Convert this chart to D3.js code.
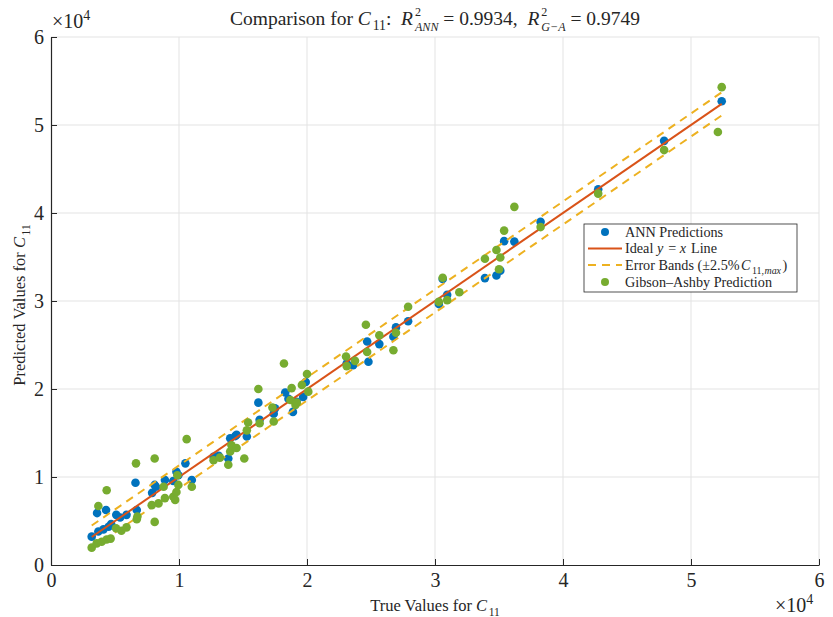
<!DOCTYPE html>
<html>
<head>
<meta charset="utf-8">
<script src="https://cdn.jsdelivr.net/npm/d3@7"></script>
<style>
  html, body { margin: 0; padding: 0; background: #fff; }
  svg { display: block; }
  text { font-family: "Liberation Serif", "Times New Roman", serif; fill: #262626; white-space: pre; }
</style>
</head>
<body>
<svg id="chart" width="833" height="617"></svg>
<script>
// ANN predictions: true vs predicted C11
const annTrue = [3180, 3600, 3700, 4100, 4300, 4500, 4700, 5100, 5400, 5900,
  6600, 6700, 7900, 8100, 8200, 8900, 9550, 9800, 9950, 10500, 11000,
  12700, 13100, 13850, 14000, 14400, 14500, 15300, 16200, 16300, 17400, 17500,
  18300, 18550, 18900, 19200, 19700, 19900, 23100, 23600, 24700, 24800, 25650,
  26750, 26950, 27900, 30300, 30600, 30950, 33900, 34800, 35100, 35400, 36200,
  38250, 42750, 47900, 52400];
const annPred = [3220, 5900, 3800, 4050, 6250, 4350, 4650, 5700, 5400, 5700,
  9350, 6250, 8200, 9100, 8900, 9650, 9550, 10600, 10200, 11550, 9650,
  12300, 12400, 12100, 14400, 14650, 14800, 14600, 18450, 16500, 17200, 17800,
  19600, 18900, 17400, 18550, 19100, 20800, 22900, 22700, 25400, 23100, 25100,
  25950, 27000, 27700, 29650, 32500, 30700, 32600, 32900, 33450, 36800, 36750,
  39000, 42700, 48200, 52700];

// Gibson-Ashby model: true vs predicted C11
const gaTrue = [3180, 3570, 3700, 3960, 4350, 4350, 4660, 5080, 5500, 5900,
  6640, 6700, 6750, 7870, 8100, 8100, 8400, 8800, 8900, 9550, 9700, 9800,
  9950, 9870, 10600, 11000, 12700, 13200, 13850, 14000, 14100, 14500, 15100,
  15300, 15400, 16200, 16300, 17300, 17400, 18200, 18700, 18800, 19100, 19200,
  19600, 20000, 20100, 23050, 23100, 23750, 24600, 24700, 25650, 26750, 26950,
  27900, 30300, 30600, 30950, 31900, 33900, 34800, 35000, 35100, 35400, 36200,
  38250, 42750, 47900, 52100, 52400];
const gaPred = [1970, 2460, 6700, 2650, 2900, 8500, 3000, 4170, 3900, 4280,
  11550, 5200, 5500, 6800, 12100, 4900, 7000, 8900, 7600, 7750, 7400, 8300,
  9100, 10200, 14300, 8900, 11900, 12200, 11400, 12900, 13600, 13300, 12100,
  15300, 16200, 20000, 16100, 17900, 16300, 22900, 18750, 20100, 18200, 18450,
  20450, 21700, 19700, 23700, 22600, 23200, 27300, 24200, 26100, 24400, 26400,
  29350, 29900, 32650, 30100, 31000, 34800, 35800, 33600, 34950, 38000, 40700,
  38400, 42200, 47150, 49200, 54300];

const xTicks = [0, 10000, 20000, 30000, 40000, 50000, 60000];
const yTicks = [0, 10000, 20000, 30000, 40000, 50000, 60000];
const bandPct = 0.025;

const C = { ann: "#0072BD", ideal: "#D95319", band: "#EDB120", ga: "#77AC30", axis: "#262626", grid: "#e3e3e3" };

const svg = d3.select("#chart");
const L = 51, R = 819, T = 37, B = 565;
const x = d3.scaleLinear().domain([0, 60000]).range([L, R]);
const y = d3.scaleLinear().domain([0, 60000]).range([B, T]);

// Measure a string at a given size/style
const probe = svg.append("text").attr("x", -999).attr("y", -999);
function measure(t, fs, it) {
  probe.style("font-size", fs + "px").style("font-style", it ? "italic" : "normal").text(t);
  return probe.node().getComputedTextLength();
}

// Lay out one text element of pieces with italics, sub/superscripts and stacked scripts
function mathText(parent, px, py, segs, opt) {
  const size = opt.size, anchor = opt.anchor || "start";
  const pieces = [];
  let cx = 0;
  segs.forEach(s => {
    if (s.stack) {
      const fs = size * 0.62;
      let w = 0;
      s.stack.forEach((p, k) => {
        pieces.push({ t: p.t, x: cx, dy: k === 0 ? -size * 0.45 : size * 0.33, fs, it: p.it });
        w = Math.max(w, measure(p.t, fs, p.it));
      });
      cx += w;
    } else {
      const fs = s.sub || s.sup ? size * 0.7 : size;
      const dy = s.sub ? size * 0.28 : s.sup ? -size * 0.38 : 0;
      pieces.push({ t: s.t, x: cx, dy, fs, it: s.it });
      // italic glyphs lean right, so leave them a little room
      cx += measure(s.t, fs, s.it) + (s.it ? size * 0.1 : 0) + (s.pad || 0);
    }
  });
  const off = anchor === "middle" ? -cx / 2 : anchor === "end" ? -cx : 0;
  const txt = parent.append("text").attr("transform", `translate(${px + off},${py})`);
  pieces.forEach(p => {
    txt.append("tspan").attr("x", p.x).attr("y", p.dy)
      .style("font-size", p.fs + "px").style("font-style", p.it ? "italic" : "normal").text(p.t);
  });
  return txt;
}

// Grid
const grid = svg.append("g");
grid.selectAll(".gx").data(xTicks.slice(1)).join("line")
  .attr("x1", d => x(d)).attr("x2", d => x(d)).attr("y1", T).attr("y2", B)
  .attr("stroke", C.grid).attr("stroke-width", 1);
grid.selectAll(".gy").data(yTicks.slice(1)).join("line")
  .attr("x1", L).attr("x2", R).attr("y1", d => y(d)).attr("y2", d => y(d))
  .attr("stroke", C.grid).attr("stroke-width", 1);

// Axes with inward ticks
const fmt = d => d3.format("d")(d / 10000);
const xAxis = svg.append("g").attr("transform", `translate(0,${B})`)
  .call(d3.axisBottom(x).tickValues(xTicks).tickFormat(fmt).tickSizeInner(-6).tickSizeOuter(0).tickPadding(8));
const yAxis = svg.append("g").attr("transform", `translate(${L},0)`)
  .call(d3.axisLeft(y).tickValues(yTicks).tickFormat(fmt).tickSizeInner(-6).tickSizeOuter(0).tickPadding(7));
[xAxis, yAxis].forEach(a => {
  a.select(".domain").attr("stroke", C.axis).attr("stroke-width", 1.2);
  a.selectAll(".tick line").attr("stroke", C.axis);
  a.selectAll(".tick text").style("font-family", "'Liberation Serif', serif").style("font-size", "20px").attr("fill", C.axis);
});

// Exponent labels
mathText(svg, 52, 28, [{ t: "×10" }, { t: "4", sup: true }], { size: 20 });
mathText(svg, 775, 612, [{ t: "×10" }, { t: "4", sup: true }], { size: 20 });

// ANN points
svg.append("g").selectAll("circle").data(annTrue).join("circle")
  .attr("cx", d => x(d)).attr("cy", (d, i) => y(annPred[i])).attr("r", 4.3).attr("fill", C.ann);

// Ideal line and error bands
const tMin = d3.min(annTrue), tMax = d3.max(annTrue);
const band = bandPct * tMax;
svg.append("line").attr("x1", x(tMin)).attr("y1", y(tMin)).attr("x2", x(tMax)).attr("y2", y(tMax))
  .attr("stroke", C.ideal).attr("stroke-width", 2);
[band, -band].forEach(o => {
  svg.append("line").attr("x1", x(tMin)).attr("y1", y(tMin + o)).attr("x2", x(tMax)).attr("y2", y(tMax + o))
    .attr("stroke", C.band).attr("stroke-width", 2).attr("stroke-dasharray", "8,6");
});

// Gibson-Ashby points
svg.append("g").selectAll("circle").data(gaTrue).join("circle")
  .attr("cx", d => x(d)).attr("cy", (d, i) => y(gaPred[i])).attr("r", 4.3).attr("fill", C.ga);

// Title
mathText(svg, 435, 25, [
  { t: "Comparison for " }, { t: "C", it: true }, { t: "11", sub: true }, { t: ":  " },
  { t: "R", it: true }, { stack: [{ t: "2" }, { t: "ANN", it: true }] }, { t: " = 0.9934,  " },
  { t: "R", it: true }, { stack: [{ t: "2" }, { t: "G−A", it: true }] }, { t: " = 0.9749" }
], { size: 19.5, anchor: "middle" });

// Axis labels
mathText(svg, 435, 611, [{ t: "True Values for " }, { t: "C", it: true }, { t: "11", sub: true }], { size: 16.5, anchor: "middle" });
const yl = svg.append("g").attr("transform", "translate(25,305) rotate(-90)");
mathText(yl, 0, 0, [{ t: "Predicted Values for " }, { t: "C", it: true }, { t: "11", sub: true }], { size: 16.5, anchor: "middle" });

// Legend
const lg = svg.append("g");
lg.append("rect").attr("x", 584).attr("y", 224).attr("width", 213).attr("height", 68)
  .attr("fill", "#fff").attr("stroke", C.axis).attr("stroke-width", 0.8);
const rows = [232, 248.5, 265, 282];
lg.append("circle").attr("cx", 605).attr("cy", rows[0]).attr("r", 4).attr("fill", C.ann);
lg.append("line").attr("x1", 588).attr("x2", 622).attr("y1", rows[1]).attr("y2", rows[1]).attr("stroke", C.ideal).attr("stroke-width", 2);
lg.append("line").attr("x1", 588).attr("x2", 622).attr("y1", rows[2]).attr("y2", rows[2]).attr("stroke", C.band).attr("stroke-width", 2).attr("stroke-dasharray", "8,6");
lg.append("circle").attr("cx", 605).attr("cy", rows[3]).attr("r", 4).attr("fill", C.ga);
const ls = 14.2, lx = 625, ly = 4.8;
mathText(lg, lx, rows[0] + ly, [{ t: "ANN Predictions" }], { size: ls });
mathText(lg, lx, rows[1] + ly, [{ t: "Ideal " }, { t: "y", it: true }, { t: " = " }, { t: "x", it: true }, { t: " Line" }], { size: ls });
mathText(lg, lx, rows[2] + ly, [{ t: "Error Bands (±2.5%", pad: 1.5 }, { t: "C", it: true }, { t: "11,", sub: true, pad: 0.5 }, { t: "max", sub: true, it: true }, { t: ")" }], { size: ls });
mathText(lg, lx, rows[3] + ly, [{ t: "Gibson–Ashby Prediction" }], { size: ls });
probe.remove();
</script>
</body>
</html>
